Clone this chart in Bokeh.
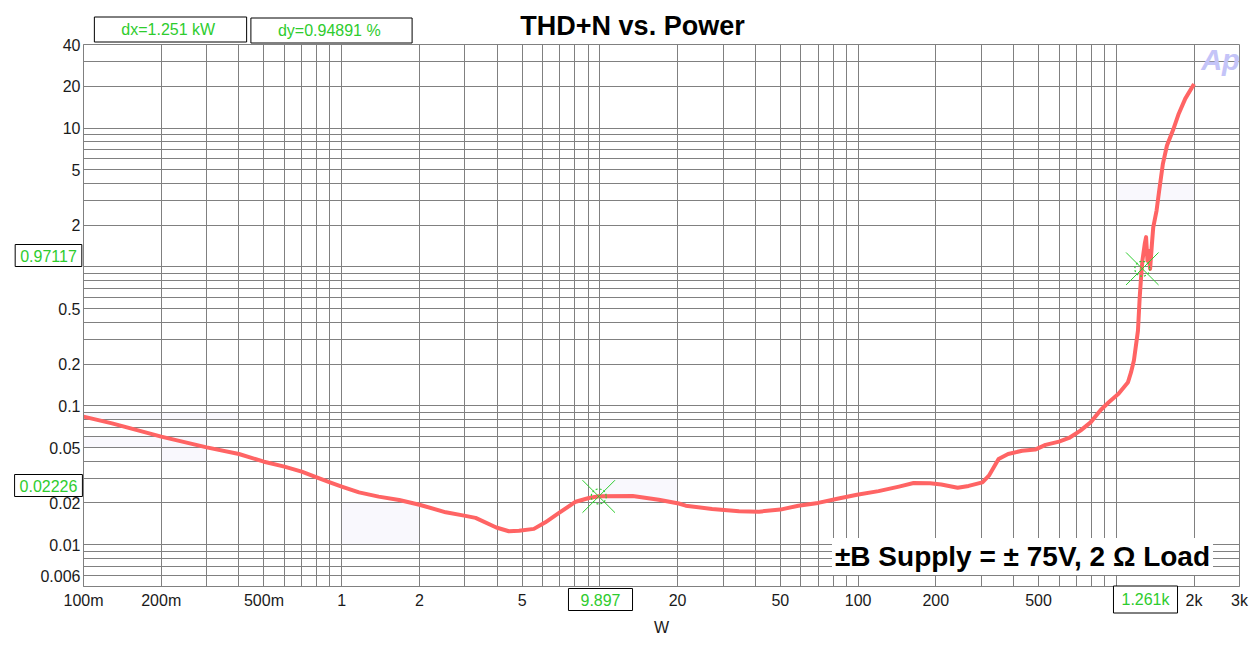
from bokeh.plotting import figure
from bokeh.models import Label, FixedTicker, Range1d, ColumnDataSource
from bokeh.embed import file_html
from bokeh.resources import INLINE

# ---------------- data ----------------
power_w = [0.099, 0.129, 0.2, 0.3, 0.4, 0.5, 0.6, 0.7, 0.8, 0.9, 1.0, 1.167, 1.39, 1.67,
           2.0, 2.53, 2.98, 3.3, 3.97, 4.44, 4.86, 5.55, 6.15, 6.9, 8.06, 9.07, 9.9,
           13.4, 16.9, 20.2, 21.5, 27.2, 34.6, 41.3, 50, 58.7, 70, 84, 99, 120,
           144, 164, 190, 210, 243, 268, 303, 321, 350, 381, 432, 485, 532, 600,
           656, 726, 795, 870, 935, 1020, 1110, 1140, 1170, 1213, 1232, 1247, 1262,
           1289, 1304, 1320, 1332, 1352, 1374, 1390, 1432, 1466, 1515, 1571, 1656,
           1745, 1850, 2000]
thd_pct = [0.084, 0.0748, 0.060, 0.0502, 0.045, 0.0396, 0.0365, 0.0336, 0.0305, 0.0281,
           0.0262, 0.0238, 0.0222, 0.0210, 0.0194, 0.0171, 0.0162, 0.0156, 0.0133,
           0.0125, 0.0126, 0.0130, 0.0145, 0.0168, 0.0204, 0.0217, 0.0223, 0.0224,
           0.0211, 0.0198, 0.0191, 0.0181, 0.0174, 0.0173, 0.0179, 0.0191, 0.0200,
           0.0215, 0.0229, 0.0243, 0.0262, 0.0278, 0.0277, 0.0271, 0.0257, 0.0265,
           0.0281, 0.0314, 0.0414, 0.045, 0.0475, 0.0484, 0.0523, 0.0552, 0.0587,
           0.0663, 0.076, 0.0934, 0.106, 0.122, 0.148, 0.174, 0.212, 0.348, 0.605,
           0.843, 1.11, 1.47, 1.64, 1.11, 1.31, 0.968, 1.47, 1.93, 2.55, 3.55, 5.53,
           7.5, 9.6, 12.7, 16.3, 20.8]

cursor_x = [9.897, 1261.0]
cursor_y = [0.02226, 0.97117]
dx_text = "dx=1.251  kW"
dy_text = "dy=0.94891  %"

x_ticks = [0.1, 0.2, 0.5, 1, 2, 5, 10, 20, 50, 100, 200, 500, 1000, 2000, 3000]
x_tick_labels = ["100m", "200m", "500m", "1", "2", "5", "", "20", "50", "100",
                 "200", "500", "", "2k", "3k"]
y_ticks = [0.006, 0.01, 0.02, 0.05, 0.1, 0.2, 0.5, 1, 2, 5, 10, 20, 40]
y_tick_labels = ["0.006", "0.01", "0.02", "0.05", "0.1", "0.2", "0.5", "", "2", "5",
                 "10", "20", "40"]

# faint highlighted grid cells
cell_left = [0.1, 0.1, 0.2, 1, 10, 1000]
cell_right = [0.4, 0.2, 0.3, 2, 20, 2000]
cell_bottom = [0.08, 0.05, 0.04, 0.01, 0.02, 3]
cell_top = [0.09, 0.06, 0.06, 0.02, 0.03, 4]

title_text = "THD+N vs. Power"
note_text = "±B Supply = ± 75V, 2 Ω Load"
x_label = "W"

# ---------------- figure ----------------
GRID = "#808080"
GREEN = "#2ECC2E"
FONT = "Liberation Sans"

p = figure(frame_width=1156, frame_height=542, x_axis_type="log", y_axis_type="log",
           x_range=Range1d(0.1, 3000), y_range=Range1d(0.005, 40),
           output_backend="svg", toolbar_location=None,
           min_border_left=83, min_border_right=18, min_border_top=44,
           min_border_bottom=62)

x_minor = [m * d for d in [0.1, 1, 10, 100, 1000] for m in range(1, 10) if m * d <= 3000]
y_minor = [m * d for d in [0.001, 0.01, 0.1, 1, 10] for m in range(1, 10) if 0.005 <= m * d <= 40]

p.xaxis.ticker = FixedTicker(ticks=x_ticks, minor_ticks=x_minor)
p.yaxis.ticker = FixedTicker(ticks=y_ticks, minor_ticks=y_minor)
p.xaxis.major_label_overrides = {t: l for t, l in zip(x_ticks, x_tick_labels)}
p.yaxis.major_label_overrides = {t: l for t, l in zip(y_ticks, y_tick_labels)}

for ax in (p.xaxis, p.yaxis):
    ax.major_tick_out = 0
    ax.major_tick_in = 0
    ax.minor_tick_out = 0
    ax.minor_tick_in = 0
    ax.axis_line_color = GRID
    ax.major_label_text_font = FONT
    ax.major_label_text_font_size = "16px"
    ax.major_label_text_color = "#1a1a1a"
p.yaxis.major_label_standoff = 3
p.xaxis.major_label_standoff = 5
p.xaxis.axis_label = x_label
p.xaxis.axis_label_text_font = FONT
p.xaxis.axis_label_text_font_style = "normal"
p.xaxis.axis_label_text_font_size = "16px"
p.xaxis.axis_label_text_color = "#1a1a1a"
p.xaxis.axis_label_standoff = 7

for g in (p.xgrid, p.ygrid):
    g.grid_line_color = GRID
    g.grid_line_alpha = 1
    g.minor_grid_line_color = GRID
    g.minor_grid_line_alpha = 1

p.outline_line_color = GRID
p.outline_line_alpha = 1

p.quad(left=cell_left, right=cell_right, bottom=cell_bottom, top=cell_top,
       fill_color="#F9F8FD", line_color=None, level="underlay")

src = ColumnDataSource(dict(x=power_w, y=thd_pct))
p.line("x", "y", source=src, line_color="#FF6464", line_width=4, line_join="round")

p.scatter(cursor_x, cursor_y, marker="x", size=46, line_color=GREEN, line_width=1)
p.scatter(cursor_x, cursor_y, marker="circle", size=15, fill_color=None,
          line_color=GREEN, line_width=1.2, line_dash="2 2")


def make_label(text, sx, sy, size, color="#1a1a1a", style="normal", border=False,
               bg=None, padding=0, font=FONT):
    lab = Label(x=sx, y=sy, x_units="screen", y_units="screen", text=text,
                text_font=font, text_font_size=size, text_color=color,
                text_font_style=style, text_align="center", text_baseline="middle",
                padding=padding)
    if border:
        lab.border_line_color = "black"
        lab.border_line_width = 1
    if bg:
        lab.background_fill_color = bg
    return lab

# labels inside the frame
p.add_layout(make_label(note_text, 939, 30, "28px", color="black", style="bold",
                        bg="white", padding=3))
p.add_layout(make_label("Ap", 1137, 527, "29px", color="#C4C4F8", style="bold italic"))

# labels outside the frame live in side panels below the x axis (not clipped)
p.add_layout(make_label("9.897", 517, 61, "16px", color=GREEN, border=True, bg="white",
                        padding=(12, 5)), "below")
p.add_layout(make_label("1.261k", 1062, 88, "16px", color=GREEN, border=True, bg="white",
                        padding=(8, 5)), "below")
p.add_layout(make_label("0.97117", -35, 454, "16px", color=GREEN, border=True, bg="white",
                        padding=(5, 5)), "below")
p.add_layout(make_label("0.02226", -35, 246, "16px", color=GREEN, border=True, bg="white",
                        padding=(5, 5)), "below")
p.add_layout(make_label(dx_text, 87, 727, "16px", color=GREEN, border=True, bg="white",
                        padding=(27, 4)), "below")
p.add_layout(make_label(dy_text, 248, 751, "16px", color=GREEN, border=True, bg="white",
                        padding=(27, 4)), "below")
p.add_layout(make_label(title_text, 549, 786, "27px", color="black", style="bold"), "below")

open("out.html", "w").write(file_html(p, INLINE))
